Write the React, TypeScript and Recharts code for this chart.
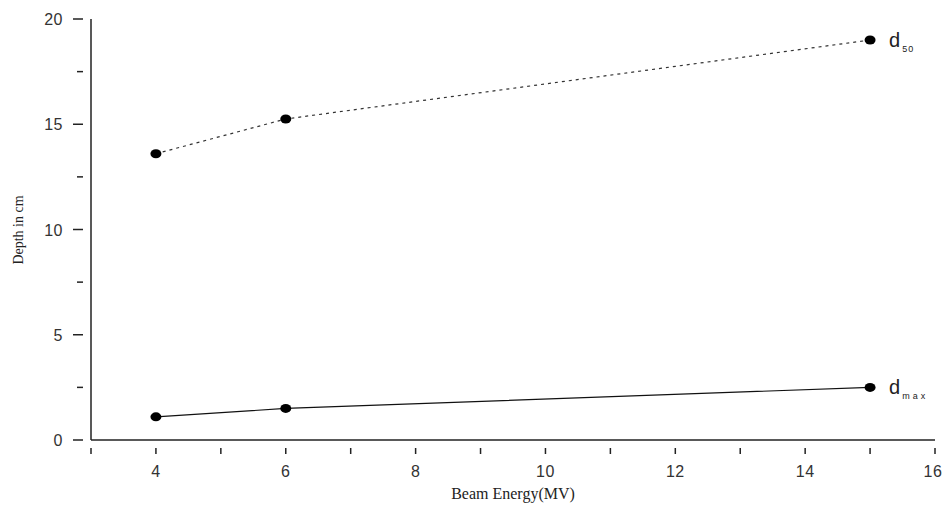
import React from 'react';
import { LineChart, Line, XAxis, YAxis, LabelList } from 'recharts';

// beam energies (MV)
const energies = [4, 6, 15];
// depth of 50% dose (cm)
const d50Values = [13.6, 15.25, 19.0];
// depth of max dose (cm)
const dmaxValues = [1.1, 1.5, 2.5];

const xTicks = [3, 4, 5, 6, 7, 8, 9, 10, 11, 12, 13, 14, 15, 16];
const yTicks = [0, 2.5, 5, 7.5, 10, 12.5, 15, 17.5, 20];

const data = energies.map((e, i) => ({ energy: e, d50: d50Values[i], dmax: dmaxValues[i] }));

const tickFont = { fontFamily: 'Liberation Sans, Arial, sans-serif', fontSize: 16, letterSpacing: 0.5 };

const XTick = (props: any) => {
    const { x, y, payload } = props;
    const v = payload.value;
    const major = v % 2 === 0;
    return (
        <g>
            <line x1={x} x2={x} y1={y} y2={y + 6} stroke="#222" strokeWidth={1.5} />
            {major && (
                <text x={v === 16 ? x - 2 : x} y={y + 29} textAnchor="middle" fill="#333" style={tickFont}>
                    {v}
                </text>
            )}
        </g>
    );
};

const YTick = (props: any) => {
    const { x, y, payload } = props;
    const v = payload.value;
    const major = v % 5 === 0;
    return (
        <g>
            <line x1={x - (major ? 10 : 6)} x2={x} y1={y} y2={y} stroke="#222" strokeWidth={1.5} />
            {major && (
                <text x={x - 20} y={y + 6} textAnchor="end" fill="#333" style={tickFont}>
                    {v}
                </text>
            )}
        </g>
    );
};

// label drawn next to the last point of a series
const seriesLabel = (main: string, sub: string, subSpacing: number) => (props: any) => {
    const { x, y, index } = props;
    if (index !== energies.length - 1) return null;
    return (
        <text x={x + 19} y={y + 7} fill="#222" style={{ fontFamily: 'Liberation Sans, Arial, sans-serif' }}>
            <tspan fontSize={20}>{main}</tspan>
            <tspan fontSize={9} dy={5} dx={2} letterSpacing={subSpacing}>{sub}</tspan>
        </text>
    );
};

const Dot = (props: any) => {
    const { cx, cy } = props;
    return <ellipse cx={cx} cy={cy} rx={5.5} ry={4.5} fill="#000" />;
};

export default function App() {
    return (
        <div style={{ position: 'absolute', left: 0, top: 0, background: '#fff' }}>
            <LineChart
                width={943}
                height={505}
                data={data}
                margin={{ top: 19, right: 8, bottom: 25, left: 31 }}
            >
                <XAxis
                    dataKey="energy"
                    type="number"
                    domain={[3, 16]}
                    ticks={xTicks}
                    interval={0}
                    tick={<XTick />}
                    tickLine={false}
                    axisLine={{ stroke: '#222', strokeWidth: 1.5 }}
                    height={40}
                />
                <YAxis
                    type="number"
                    domain={[0, 20]}
                    ticks={yTicks}
                    interval={0}
                    tick={<YTick />}
                    tickLine={false}
                    axisLine={{ stroke: '#222', strokeWidth: 1.5 }}
                    width={60}
                />
                <text
                    x={513}
                    y={499}
                    textAnchor="middle"
                    fill="#222"
                    style={{ fontFamily: 'Liberation Serif, Times New Roman, serif', fontSize: 16 }}
                >
                    Beam Energy(MV)
                </text>
                <text
                    x={23}
                    y={230}
                    textAnchor="middle"
                    transform="rotate(-90 23 230)"
                    fill="#222"
                    style={{ fontFamily: 'Liberation Serif, Times New Roman, serif', fontSize: 14 }}
                >
                    Depth in cm
                </text>
                <Line
                    type="linear"
                    dataKey="d50"
                    stroke="#333"
                    strokeWidth={1.2}
                    strokeDasharray="3 4"
                    dot={<Dot />}
                    isAnimationActive={false}
                >
                    <LabelList content={seriesLabel('d', '50', 1)} />
                </Line>
                <Line
                    type="linear"
                    dataKey="dmax"
                    stroke="#111"
                    strokeWidth={1.2}
                    dot={<Dot />}
                    isAnimationActive={false}
                >
                    <LabelList content={seriesLabel('d', 'max', 3)} />
                </Line>
            </LineChart>
        </div>
    );
}
